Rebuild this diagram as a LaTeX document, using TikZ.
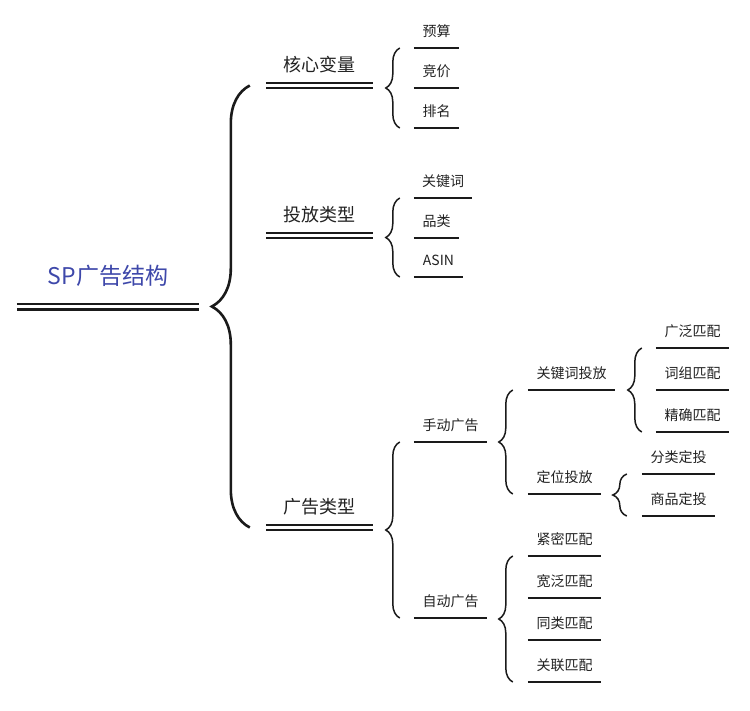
\documentclass[tikz,border=0pt]{standalone}
\usepackage{fontspec}
\setmainfont{Noto Sans CJK SC}
\usetikzlibrary{decorations.pathreplacing}
\definecolor{rootblue}{RGB}{62,72,170}
\definecolor{linecol}{RGB}{26,26,26}
\definecolor{textcol}{RGB}{34,34,34}

\begin{document}
\begin{tikzpicture}[x=1pt,y=-1pt,
  root node/.style={font=\fontsize{23}{26}\selectfont,text=rootblue,anchor=south,inner sep=0,text height=18pt,text depth=22pt,minimum width=182pt},
  main node/.style={font=\fontsize{18}{20}\selectfont,text=textcol,anchor=south,inner sep=0,text height=15pt,text depth=14pt,minimum width=107pt},
  leaf node/.style={font=\fontsize{14}{16}\selectfont,text=textcol,anchor=south,inner sep=0,text height=12pt,text depth=11pt,minimum width=73pt},
  double line/.style={draw=linecol,line width=1.8pt,double,double distance=3.2pt},
  under line/.style={draw=linecol,line width=1.8pt},
  brace line/.style={draw=linecol,line width=1.5pt,decorate,decoration={brace,amplitude=#1}},
  brace line/.default=14pt]

  \useasboundingbox[fill=white] (0,0) rectangle (750,710);

  % root and first level
  \node[root node] (sp) at (108,306.5) {SP广告结构};
  \node[main node] (hx) at (319.5,85.5) {核心变量};
  \node[main node] (tf) at (319.5,235.5) {投放类型};
  \node[main node] (gg) at (319.5,527.5) {广告类型};

  % core variables
  \node[leaf node,minimum width=45pt] (ys) at (436.5,48) {预算};
  \node[leaf node,minimum width=45pt] (jj) at (436.5,88) {竞价};
  \node[leaf node,minimum width=45pt] (pm) at (436.5,128) {排名};

  % targeting types
  \node[leaf node,minimum width=58pt] (gjc) at (443,198) {关键词};
  \node[leaf node,minimum width=45pt] (pl) at (436.5,238) {品类};
  \node[leaf node,minimum width=49pt] (asin) at (438.5,277) {ASIN};

  % ad types
  \node[leaf node] (sd) at (450.5,442) {手动广告};
  \node[leaf node] (zd) at (450.5,618) {自动广告};
  \node[leaf node,minimum width=87pt] (gjctf) at (571.5,390) {关键词投放};
  \node[leaf node] (dwtf) at (564.5,494) {定位投放};
  \node[leaf node] (gf) at (692.5,348) {广泛匹配};
  \node[leaf node] (cz) at (692.5,390) {词组匹配};
  \node[leaf node] (jq) at (692.5,432) {精确匹配};
  \node[leaf node] (fl) at (678.5,474) {分类定投};
  \node[leaf node] (spd) at (678.5,516) {商品定投};
  \node[leaf node] (jm) at (564.5,556) {紧密匹配};
  \node[leaf node] (kf) at (564.5,598) {宽泛匹配};
  \node[leaf node] (tl) at (564.5,640) {同类匹配};
  \node[leaf node] (gl) at (564.5,682) {关联匹配};

  % lines under the texts
  \draw[double line,line width=2.8pt,double distance=2.4pt] (sp.south west) -- (sp.south east);
  \foreach \n in {hx,tf,gg}
    \draw[double line] (\n.south west) -- (\n.south east);
  \foreach \n in {ys,jj,pm,gjc,pl,asin,sd,zd,gjctf,dwtf,gf,cz,jq,fl,spd,jm,kf,tl,gl}
    \draw[under line] (\n.south west) -- (\n.south east);

  % braces
  \draw[brace line=38pt,line width=2.6pt] ([xshift=-16pt]gg.south west) -- ([xshift=-16pt]hx.south west);
  \draw[brace line] ([xshift=-14pt]pm.south west) -- ([xshift=-14pt]ys.south west);
  \draw[brace line] ([xshift=-14pt]asin.south west) -- ([xshift=-14pt]gjc.south west);
  \draw[brace line] ([xshift=-14pt]zd.south west) -- ([xshift=-14pt]sd.south west);
  \draw[brace line] ([xshift=-15pt]dwtf.south west) -- ([xshift=-15pt]gjctf.south west);
  \draw[brace line] ([xshift=-14pt]jq.south west) -- ([xshift=-14pt]gf.south west);
  \draw[brace line] ([xshift=-15pt]spd.south west) -- ([xshift=-15pt]fl.south west);
  \draw[brace line] ([xshift=-15pt]gl.south west) -- ([xshift=-15pt]jm.south west);

\end{tikzpicture}
\end{document}
